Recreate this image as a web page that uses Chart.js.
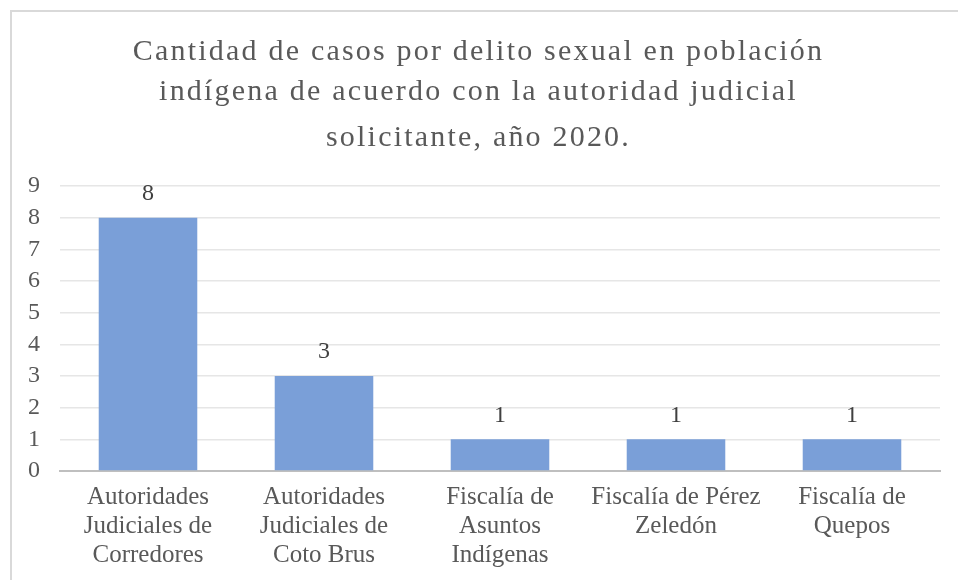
<!DOCTYPE html>
<html>
<head>
<meta charset="utf-8">
<script src="https://cdn.jsdelivr.net/npm/chart.js@4"></script>
<style>
    body { margin: 0; background: #fff; }
    #wrap { position: relative; width: 958px; height: 580px; }
    #frame { position: absolute; left: 10px; top: 10px; right: 0; bottom: 0; border-left: 2px solid #d9d9d9; border-top: 2px solid #d9d9d9; pointer-events: none; }
</style>
</head>
<body>
<div id="wrap">
    <canvas id="chart" width="958" height="580"></canvas>
    <div id="frame"></div>
</div>
<script>
const titleLines = ['Cantidad de casos por delito sexual en población', 'indígena de acuerdo con la autoridad judicial', 'solicitante, año 2020.'];
const categories = [
    ['Autoridades', 'Judiciales de', 'Corredores'],
    ['Autoridades', 'Judiciales de', 'Coto Brus'],
    ['Fiscalía de', 'Asuntos', 'Indígenas'],
    ['Fiscalía de Pérez', 'Zeledón'],
    ['Fiscalía de', 'Quepos']
];
const casos = [8, 3, 1, 1, 1];
const yTicks = [0, 1, 2, 3, 4, 5, 6, 7, 8, 9];

const serif = '"Liberation Serif", "Times New Roman", serif';

// Title drawn by hand so the letter spacing can match
const spacedTitle = {
    id: 'spacedTitle',
    afterDraw(chart) {
        const ctx = chart.ctx;
        const lineY = [52, 92, 138];
        ctx.save();
        ctx.font = '30px ' + serif;
        ctx.fillStyle = '#595959';
        ctx.textAlign = 'center';
        ctx.textBaseline = 'middle';
        ctx.letterSpacing = '2.2px';
        titleLines.forEach((line, i) => {
            ctx.fillText(line, chart.width / 2 - 0.5, lineY[i]);
        });
        ctx.restore();
    }
};

// Value labels above each bar
const valueLabels = {
    id: 'valueLabels',
    afterDatasetsDraw(chart) {
        const ctx = chart.ctx;
        const meta = chart.getDatasetMeta(0);
        ctx.save();
        ctx.font = '24px ' + serif;
        ctx.fillStyle = '#404040';
        ctx.textAlign = 'center';
        ctx.textBaseline = 'middle';
        meta.data.forEach((bar, i) => {
            ctx.fillText(String(casos[i]), bar.x, bar.y - 24);
        });
        ctx.restore();
    }
};

new Chart(document.getElementById('chart'), {
    type: 'bar',
    data: {
        labels: categories,
        datasets: [{
            data: casos,
            backgroundColor: '#7a9fd8',
            barPercentage: 0.56,
            categoryPercentage: 1
        }]
    },
    options: {
        responsive: false,
        animation: false,
        layout: { padding: { left: 0, right: 18, top: 186, bottom: 0 } },
        plugins: {
            legend: { display: false },
            tooltip: { enabled: false },
            title: { display: false }
        },
        scales: {
            x: {
                grid: { display: false, drawTicks: false },
                border: { color: '#bfbfbf', width: 2 },
                ticks: {
                    color: '#595959',
                    font: { family: serif, size: 25, lineHeight: 1.16 },
                    padding: 12,
                    maxRotation: 0,
                    autoSkip: false
                },
                afterFit(scale) { scale.height = 109; }
            },
            y: {
                min: 0,
                max: 9,
                afterBuildTicks(scale) { scale.ticks = yTicks.map(v => ({ value: v })); },
                grid: { color: '#e6e6e6', lineWidth: 1.5, drawTicks: false },
                border: { display: false },
                ticks: {
                    color: '#595959',
                    font: { family: serif, size: 24 },
                    padding: 20,
                    autoSkip: false
                },
                afterFit(scale) { scale.width = 60; }
            }
        }
    },
    plugins: [valueLabels, spacedTitle]
});
</script>
</body>
</html>
